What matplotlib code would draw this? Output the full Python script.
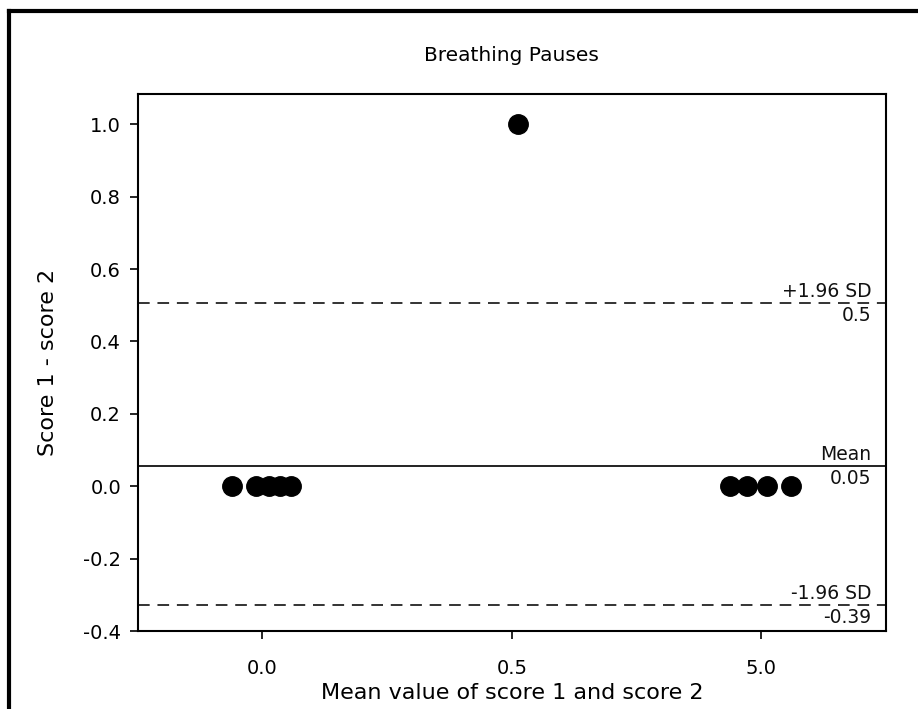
import matplotlib
matplotlib.use("Agg")
import matplotlib.pyplot as plt
import matplotlib.transforms as mtransforms
from matplotlib.lines import Line2D

# x is in tick-slot units (slot 0 -> "0.0", 1 -> "0.5", 2 -> "5.0")
mean_vals = [-0.120, -0.024, 0.028, 0.072, 0.116, 1.026, 1.876, 1.944, 2.024, 2.120]
diffs = [0, 0, 0, 0, 0, 1.0, 0, 0, 0, 0]
xtick_pos = [0, 1, 2]
xtick_labels = ["0.0", "0.5", "5.0"]
yticks = [-0.4, -0.2, 0.0, 0.2, 0.4, 0.6, 0.8, 1.0]

mean_line = 0.055
upper_line = 0.506
lower_line = -0.328
ref_labels = [
    (upper_line, "+1.96 SD", "0.5", "--"),
    (mean_line, "Mean", "0.05", "-"),
    (lower_line, "-1.96 SD", "-0.39", "--"),
]

fig = plt.figure(figsize=(9.18, 7.09), dpi=100)
ax = fig.add_axes([0.150, 0.110, 0.815, 0.757])

ax.plot(mean_vals, diffs, "o", color="black", markersize=14, zorder=3)

trans = mtransforms.blended_transform_factory(ax.transAxes, ax.transData)
for yv, top_txt, bot_txt, ls in ref_labels:
    if ls == "--":
        ax.axhline(yv, color="#333333", lw=1.4, linestyle=(0, (6, 4)))
    else:
        ax.axhline(yv, color="#222222", lw=1.4)
    ax.text(0.981, yv + 0.006, top_txt, transform=trans, ha="right", va="bottom",
            fontsize=13.5, color="#111111")
    ax.text(0.981, yv - 0.008, bot_txt, transform=trans, ha="right", va="top",
            fontsize=13.5, color="#111111")

ax.set_xlim(-0.5, 2.5)
ax.set_ylim(-0.4, 1.083)
ax.set_xticks(xtick_pos)
ax.set_xticklabels(xtick_labels)
ax.set_yticks(yticks)
ax.set_yticklabels([f"{v:.1f}" for v in yticks])
ax.tick_params(direction="out", length=6, width=1.2, labelsize=14, pad=6)
ax.tick_params(axis="x", pad=14)
for s in ax.spines.values():
    s.set_linewidth(1.5)

ax.set_title("Breathing Pauses", fontsize=14.5, pad=24)
ax.set_xlabel("Mean value of score 1 and score 2", fontsize=16, labelpad=4)
ax.set_ylabel("Score 1 - score 2", fontsize=16, labelpad=18)

# frame around the picture (top and left edges visible)
fig.add_artist(Line2D([0.0098, 1.0], [0.9845, 0.9845], transform=fig.transFigure,
                      color="black", lw=3))
fig.add_artist(Line2D([0.0098, 0.0098], [0.0, 0.9845], transform=fig.transFigure,
                      color="black", lw=3))

fig.savefig("out.png", dpi=100)
